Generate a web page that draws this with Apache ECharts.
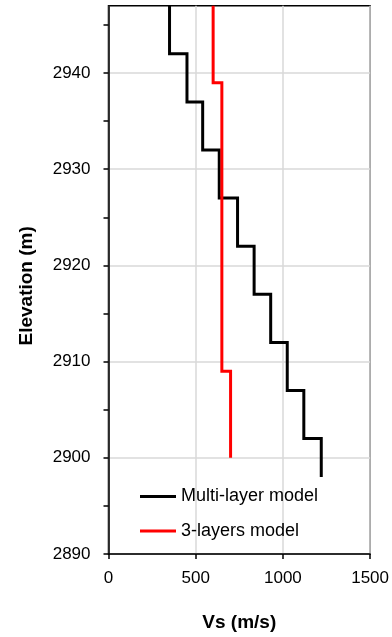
<!DOCTYPE html>
<html>
<head>
<meta charset="utf-8">
<script src="https://cdn.jsdelivr.net/npm/echarts@6/dist/echarts.min.js"></script>
<style>
  html, body { margin: 0; padding: 0; background: #fff; }
  #chart { width: 392px; height: 637px; }
</style>
</head>
<body>
<div id="chart"></div>
<script>
// layer velocities (m/s) and layer boundary elevations (m), top to bottom
const multiVs = [350, 450, 540, 635, 740, 835, 930, 1025, 1120, 1220]
const multiElev = [2947, 2942, 2937, 2932, 2927, 2922, 2917, 2912, 2907, 2902, 2898]
const threeVs = [600, 650, 700]
const threeElev = [2947, 2939, 2909, 2900]
const xTicks = [0, 500, 1000, 1500]
const yTicks = [2890, 2900, 2910, 2920, 2930, 2940]
const yTickMarks = [2890, 2895, 2900, 2905, 2910, 2915, 2920, 2925, 2930, 2935, 2940, 2945]

// turn layers into a step profile
function profile(vs, elev) {
  const pts = []
  vs.forEach((v, i) => {
    pts.push([v, elev[i]])
    pts.push([v, elev[i + 1]])
  })
  return pts
}

const font = 'Liberation Sans, Arial, sans-serif'
const chart = echarts.init(document.getElementById('chart'))

const option = {
  animation: false,
  grid: {
    left: 108.5,
    right: 21,
    top: 5.7,
    bottom: 82.4,
    show: true,
    borderColor: '#000',
    borderWidth: 1.5
  },
  legend: {
    orient: 'vertical',
    left: 140,
    top: 486.5,
    padding: 0,
    itemWidth: 36,
    itemHeight: 3,
    itemGap: 14.6,
    icon: 'rect',
    textStyle: { fontFamily: font, fontSize: 18, color: '#000', lineHeight: 20 },
    data: ['Multi-layer model', '3-layers model']
  },
  xAxis: {
    type: 'value',
    min: xTicks[0],
    max: xTicks[xTicks.length - 1],
    interval: 500,
    name: 'Vs (m/s)',
    nameLocation: 'middle',
    nameGap: 59,
    nameTextStyle: { fontFamily: font, fontSize: 19, fontWeight: 'bold', color: '#000' },
    axisLine: { lineStyle: { color: '#000', width: 1.5 } },
    axisTick: { show: true, length: 5, lineStyle: { color: '#000', width: 1.5 } },
    axisLabel: { fontFamily: font, fontSize: 17, color: '#000', margin: 16, formatter: v => String(v) },
    splitLine: { show: true, lineStyle: { color: '#d9d9d9', width: 1.5 } }
  },
  yAxis: [{
    type: 'value',
    min: yTicks[0],
    max: 2947,
    interval: 10,
    name: 'Elevation (m)',
    nameLocation: 'middle',
    nameGap: 72,
    nameTextStyle: { fontFamily: font, fontSize: 19, fontWeight: 'bold', color: '#000', padding: [0, 12, 0, 0] },
    axisLine: { lineStyle: { color: '#000', width: 1.5 } },
    axisTick: { show: false, customValues: yTicks },
    axisLabel: { fontFamily: font, fontSize: 17, color: '#000', margin: 18, customValues: yTicks, formatter: v => String(v) },
    splitLine: { show: true, lineStyle: { color: '#d9d9d9', width: 1.5 } }
  }, {
    // tick marks every 5 m, no labels or grid
    type: 'value',
    position: 'left',
    min: yTicks[0],
    max: 2947,
    axisLine: { show: false },
    axisTick: { show: true, length: 5, customValues: yTickMarks, lineStyle: { color: '#000', width: 1.5 } },
    axisLabel: { show: false },
    splitLine: { show: false }
  }],
  series: [{
    name: 'Multi-layer model',
    type: 'line',
    data: profile(multiVs, multiElev),
    symbol: 'none',
    lineStyle: { color: '#000', width: 3, join: 'miter' },
    itemStyle: { color: '#000' }
  }, {
    name: '3-layers model',
    type: 'line',
    data: profile(threeVs, threeElev),
    symbol: 'none',
    lineStyle: { color: '#ff0000', width: 3, join: 'miter' },
    itemStyle: { color: '#ff0000' }
  }]
}

chart.setOption(option)
</script>
</body>
</html>
